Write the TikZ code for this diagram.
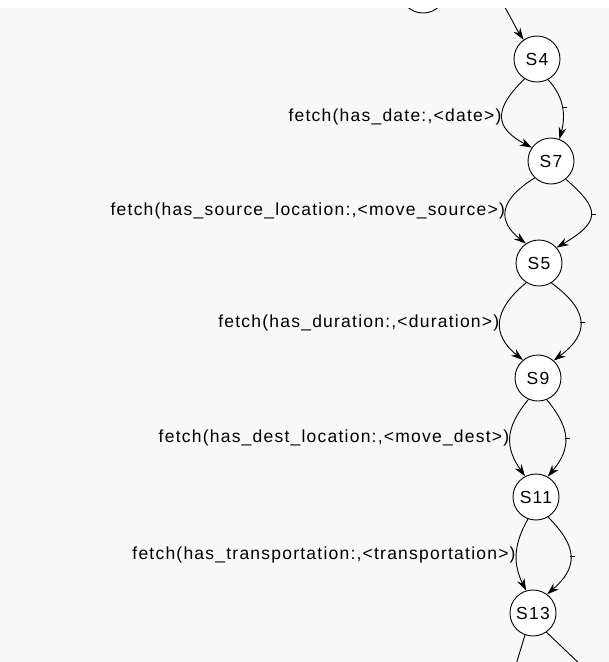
\documentclass[tikz,border=0pt]{standalone}
\usepackage{fontspec}
\setmainfont{Liberation Sans}[LetterSpace=7]
\usetikzlibrary{arrows.meta}
\definecolor{panelgray}{RGB}{248,248,248}

\begin{document}
\begin{tikzpicture}[
      x=1pt, y=-1pt,
      state/.style={circle, draw, fill=white, minimum size=46pt, inner sep=0pt, line width=0.9pt},
      trans/.style={->, draw, line width=0.9pt},
      fetch/.style={pos=0.5, anchor=east, inner sep=0.5pt},
      every node/.style={font=\fontsize{17.5}{21}\selectfont},
      >={Stealth[length=12pt, width=8pt]}
    ]
    \useasboundingbox (0,0) rectangle (609,662);
    \fill [white] (0,0) rectangle (609,8);
    \fill [panelgray] (0,8) rectangle (609,662);
    \clip (0,8) rectangle (609,662);
    \node [state] (S0) at (423,-10) {};
    \node [state] (S4) at (537,59) {S4};
    \node [state] (S7) at (551,161) {S7};
    \node [state] (S5) at (539,263) {S5};
    \node [state] (S9) at (538,378) {S9};
    \node [state] (S11) at (536,497) {S11};
    \node [state] (S13) at (533,613) {S13};
    \coordinate (in) at (499,-2);
    \coordinate (outl) at (515,668);
    \coordinate (outr) at (584,668);
    \draw [trans] (in) .. controls +(10,15) and +(-8,-12) .. (S4.125);
    \draw [trans] (S4.238) .. controls +(-31,30) and +(-38,-20) .. (S7.145)
      node [fetch] {fetch(has\_date:,<date>)};
    \draw [trans] (S4.298) .. controls +(17,18) and +(6,-22) .. (S7.69)
      coordinate [pos=0.5] (t4);
    \draw [trans] (S7.226) .. controls +(-37,23) and +(-28,-22) .. (S5.124)
      node [fetch] {fetch(has\_source\_location:,<move\_source>)};
    \draw [trans] (S7.309) .. controls +(35,30) and +(44,-26) .. (S5.41)
      coordinate [pos=0.5] (t7);
    \draw [trans] (S5.237) .. controls +(-34,28) and +(-31,-25) .. (S9.130)
      node [fetch] {fetch(has\_duration:,<duration>)};
    \draw [trans] (S5.302) .. controls +(38,28) and +(36,-27) .. (S9.48)
      coordinate [pos=0.5] (t5);
    \draw [trans] (S9.246) .. controls +(-24,29) and +(-20,-29) .. (S11.118)
      node [fetch] {fetch(has\_dest\_location:,<move\_dest>)};
    \draw [trans] (S9.292) .. controls +(24,29) and +(24,-29) .. (S11.60)
      coordinate [pos=0.5] (t9);
    \draw [trans] (S11.250) .. controls +(-15,26) and +(-13,-26) .. (S13.107)
      node [fetch] {fetch(has\_transportation:,<transportation>)};
    \draw [trans] (S11.301) .. controls +(30,30) and +(31,-27) .. (S13.53)
      coordinate [pos=0.5] (t11);
    \draw [line width=0.9pt] (S13.250) -- (outl);
    \draw [line width=0.9pt] (S13.305) -- (outr);
    \foreach \t in {t4, t7, t5, t9, t11}
      \draw [line width=0.9pt] (\t) -- ++(5,0);
\end{tikzpicture}
\end{document}
